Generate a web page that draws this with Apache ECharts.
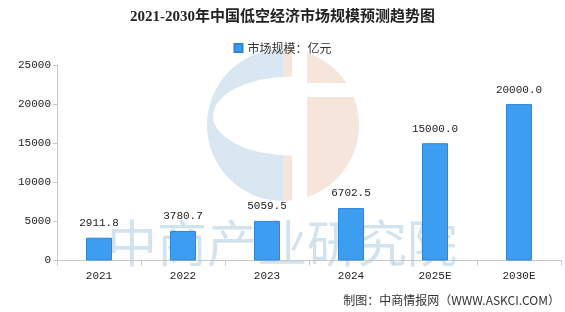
<!DOCTYPE html>
<html><head><meta charset="utf-8">
<script src="https://cdn.jsdelivr.net/npm/echarts@6/dist/echarts.min.js"></script>
<style>html,body{margin:0;padding:0;background:#fff}#c{width:565px;height:312px}</style>
</head><body><div id="c"></div>
<script>
const categories = ['2021','2022','2023','2024','2025E','2030E'];
const marketSize = [2911.8, 3780.7, 5059.5, 6702.5, 15000.0, 20000.0];
const yTicks = [0, 5000, 10000, 15000, 20000, 25000];
const titleText = '2021-2030年中国低空经济市场规模预测趋势图';
const seriesName = '市场规模：亿元';
const footerText = '制图：中商情报网（WWW.ASKCI.COM）';

const chart = echarts.init(document.getElementById('c'), null, {renderer:'canvas'});
const mono = '"Liberation Mono", "Noto Sans CJK SC", monospace';
chart.setOption({
  animation: false,
  backgroundColor: '#fff',
  title: {
    text: titleText, left: 'center', top: 5,
    textStyle: {fontSize: 15, fontWeight: 'bold', color: '#222', fontFamily: '"Liberation Serif", "Noto Sans CJK SC", serif'}
  },
  legend: {
    data: [seriesName], left: 'center', top: 37, itemWidth: 8, itemHeight: 8, itemGap: 6,
    icon: 'rect',
    textStyle: {fontSize: 12, color: '#333', fontFamily: '"Noto Sans CJK SC", sans-serif'}
  },
  graphic: [
    {type:'sector', z:-10, shape:{cx:283, cy:125, r:76, startAngle:Math.PI/2, endAngle:Math.PI*3/2}, style:{fill:'#d8e7f1'}},
    {type:'sector', z:-10, shape:{cx:283, cy:125, r:76, startAngle:-Math.PI/2, endAngle:Math.PI/2}, style:{fill:'#f6e5da'}},
    {type:'rect', z:-9, shape:{x:292, y:40, width:15, height:170}, style:{fill:'#fff'}},
    {type:'rect', z:-9, shape:{x:300, y:83, width:70, height:14}, style:{fill:'#fff'}},
    {type:'sector', z:-9, x:292, y:116, scaleY:0.5, shape:{cx:0, cy:0, r:79, startAngle:Math.PI/2, endAngle:Math.PI*3/2}, style:{fill:'#fff'}},
    {type:'text', z:-8, left:107, top:218, style:{text:'中商产业研究院', font:'50px "Noto Sans CJK SC"', fill:'#d2e3ef'}},
    {type:'text', right:5, top:294, style:{text:footerText, font:'12px "Noto Sans CJK SC", sans-serif', fill:'#333'}}
  ],
  grid: {left: 57, right: 4, top: 65, bottom: 51.5},
  xAxis: {
    type: 'category', data: categories,
    axisLine: {lineStyle: {color: '#c8c8c8'}},
    axisTick: {show: true, lineStyle: {color: '#c8c8c8'}},
    axisLabel: {color: '#222', fontSize: 11, fontFamily: mono, margin: 10}
  },
  yAxis: {
    type: 'value', min: yTicks[0], max: yTicks[yTicks.length-1], interval: 5000,
    axisLine: {show: true, lineStyle: {color: '#c8c8c8'}},
    axisTick: {show: true, length: 4, lineStyle: {color: '#c8c8c8'}},
    splitLine: {show: false},
    axisLabel: {color: '#222', fontSize: 11, fontFamily: mono, margin: 6, formatter: v => String(v)}
  },
  series: [{
    name: seriesName, type: 'bar', data: marketSize, barWidth: 26,
    itemStyle: {color: '#3d9df0', borderColor: '#2c86d8', borderWidth: 1},
    label: {show: true, position: 'top', distance: 9, color: '#222', fontSize: 11, fontFamily: mono,
      formatter: p => p.value.toFixed(1)}
  }]
});
</script></body></html>
